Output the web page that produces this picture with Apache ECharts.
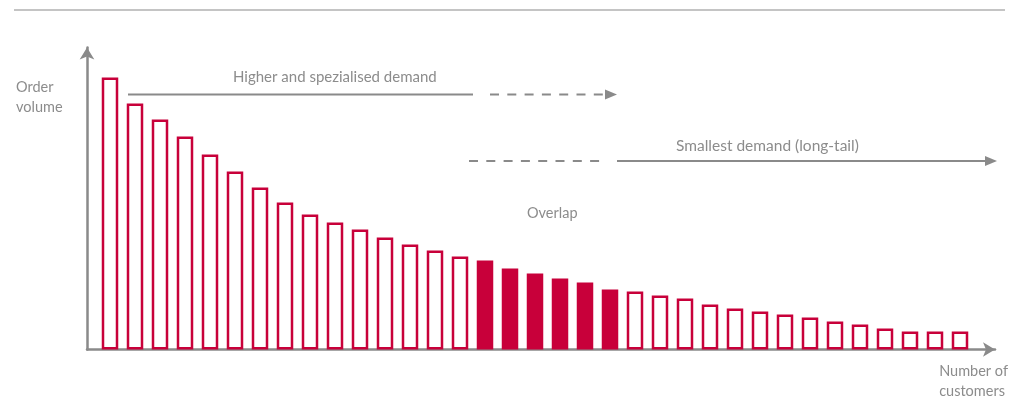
<!DOCTYPE html>
<html>
<head>
<meta charset="utf-8">
<script src="https://cdn.jsdelivr.net/npm/echarts@6/dist/echarts.min.js"></script>
<style>
html, body { margin: 0; padding: 0; background: #fff; }
#box1 { width: 1015px; height: 402px; }
</style>
</head>
<body>
<div id="box1"></div>
<script>
var myChart = echarts.init(document.getElementById('box1'));

// customers ranked by order volume
var customers = [1, 2, 3, 4, 5, 6, 7, 8, 9, 10, 11, 12, 13, 14, 15, 16, 17, 18,
    19, 20, 21, 22, 23, 24, 25, 26, 27, 28, 29, 30, 31, 32, 33, 34, 35];
var volume = [272, 246, 230, 213, 195, 178, 162, 147, 135, 127, 120, 112, 105, 99, 93,
    89, 81, 76, 71, 67, 60, 58, 54, 51, 45, 41, 38, 35, 32, 28, 25, 21, 18, 18, 18];
// customers inside the overlap zone
var overlap = [16, 17, 18, 19, 20, 21];

var red = '#c8003a';
var grey = '#8a8a8a';
var textColor = '#8c8c8c';
var font = 'Lato, "Open Sans", sans-serif';

let data = [];
for (var i = 0; i < customers.length; i++) {
    var inOverlap = overlap.indexOf(customers[i]) >= 0;
    data.push({
        value: [customers[i], volume[i]],
        itemStyle: {
            color: inOverlap ? red : '#fff',
            borderColor: red,
            borderWidth: 2.5
        }
    });
}

option = {
    animation: false,
    grid: {
        left: 87,
        right: 20,
        top: 47.5,
        bottom: 52.5
    },
    xAxis: {
        type: 'value',
        min: 0.08,
        max: 36.4,
        axisLine: {
            show: true,
            symbol: ['none', 'arrow'],
            symbolSize: [11, 12],
            lineStyle: { color: grey, width: 2.5 }
        },
        axisTick: { show: false },
        axisLabel: { show: false },
        splitLine: { show: false }
    },
    yAxis: {
        type: 'value',
        min: 0,
        max: 302,
        axisLine: {
            show: true,
            symbol: ['none', 'arrow'],
            symbolSize: [11, 12],
            lineStyle: { color: grey, width: 2.5 }
        },
        axisTick: { show: false },
        axisLabel: { show: false },
        splitLine: { show: false }
    },
    series: [
        {
            type: 'bar',
            barWidth: 16.5,
            data: data
        }
    ],
    graphic: [
        // rule at the top
        { type: 'line', shape: { x1: 14, y1: 10, x2: 1005, y2: 10 },
          style: { stroke: '#c4c4c4', lineWidth: 2 } },
        // higher demand arrow
        { type: 'line', shape: { x1: 128, y1: 94.5, x2: 473, y2: 94.5 },
          style: { stroke: grey, lineWidth: 2 } },
        { type: 'line', shape: { x1: 490, y1: 94.5, x2: 604, y2: 94.5 },
          style: { stroke: grey, lineWidth: 2, lineDash: [9, 8.3] } },
        { type: 'polygon', shape: { points: [[605, 89.5], [617, 94.5], [605, 99.5]] },
          style: { fill: grey } },
        { type: 'text', left: 233, top: 70,
          style: { text: 'Higher and spezialised demand', fill: textColor, font: '15px ' + font } },
        // long-tail arrow
        { type: 'line', shape: { x1: 469, y1: 161, x2: 607, y2: 161 },
          style: { stroke: grey, lineWidth: 2, lineDash: [9, 8.3] } },
        { type: 'line', shape: { x1: 617, y1: 161, x2: 986, y2: 161 },
          style: { stroke: grey, lineWidth: 2 } },
        { type: 'polygon', shape: { points: [[985, 156], [997, 161], [985, 166]] },
          style: { fill: grey } },
        { type: 'text', left: 676, top: 138,
          style: { text: 'Smallest demand (long-tail)', fill: textColor, font: '15.5px ' + font } },
        // overlap label
        { type: 'text', left: 527, top: 206,
          style: { text: 'Overlap', fill: textColor, font: '14.5px ' + font } },
        // axis titles
        { type: 'text', left: 16, top: 77.5,
          style: { text: 'Order\nvolume', fill: textColor, font: '14.5px ' + font, lineHeight: 20 } },
        { type: 'text', right: 7, top: 361.5,
          style: { text: 'Number of\ncustomers', fill: textColor, font: '14.5px ' + font,
                   lineHeight: 20, align: 'right' } }
    ]
};

myChart.setOption(option);
</script>
</body>
</html>
